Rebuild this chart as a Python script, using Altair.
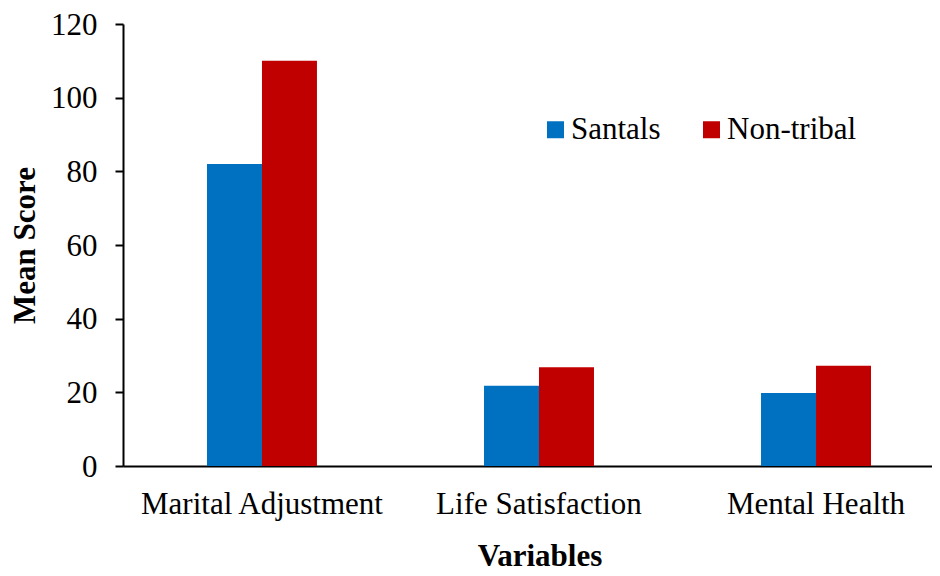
import altair as alt
import pandas as pd

categories = ["Marital Adjustment", "Life Satisfaction", "Mental Health"]
groups = ["Santals", "Non-tribal"]
santals = [82, 21.8, 19.8]
nontribal = [110, 26.8, 27.2]
colors = ["#0070C0", "#C00000"]

rows = []
for c, s, n in zip(categories, santals, nontribal):
    rows.append({"Variable": c, "Group": "Santals", "Score": s})
    rows.append({"Variable": c, "Group": "Non-tribal", "Score": n})
df = pd.DataFrame(rows)

FONT = "Liberation Serif"
FS = 31

chart = alt.Chart(df).mark_bar().encode(
    x=alt.X("Variable:N", sort=categories,
            scale=alt.Scale(paddingInner=0.603, paddingOuter=0.2617, align=0.5793),
            axis=alt.Axis(title="Variables", labelAngle=0, ticks=False, labelPadding=23,
                          labelLimit=500,
                          labelFontSize=FS, labelFont=FONT, labelColor="black",
                          titleFontSize=FS, titleFont=FONT, titleFontWeight="bold",
                          titleColor="black", titleX=416.5, titleY=99,
                          titleBaseline="alphabetic",
                          domainColor="black", domainWidth=2)),
    xOffset=alt.XOffset("Group:N", sort=groups),
    y=alt.Y("Score:Q", scale=alt.Scale(domain=[0, 120], nice=False),
            axis=alt.Axis(title="Mean Score", values=[0, 20, 40, 60, 80, 100, 120],
                          grid=False, tickSize=8, tickWidth=2, tickColor="black",
                          labelPadding=18, labelOffset=1, labelFontSize=FS, labelFont=FONT,
                          labelColor="black", titleFontSize=FS, titleFont=FONT,
                          titleFontWeight="bold", titleColor="black",
                          titleX=-98, titleBaseline="middle",
                          domainColor="black", domainWidth=2)),
    color=alt.Color("Group:N", sort=groups,
                    scale=alt.Scale(domain=groups, range=colors),
                    legend=alt.Legend(title=None, orient="none", direction="horizontal",
                                      legendX=417, legendY=90, padding=0,
                                      symbolType="square", symbolSize=289,
                                      symbolStrokeWidth=0, labelOffset=0,
                                      columnPadding=35, labelFont=FONT,
                                      labelFontSize=FS, labelColor="black")),
).properties(
    width=809, height=442,
    autosize=alt.AutoSizeParams(type="none"),
    padding={"left": 115, "top": 16, "right": 0, "bottom": 106},
).configure_view(stroke=None)

chart.save("out.html", embed_options={"renderer": "svg", "actions": False})
